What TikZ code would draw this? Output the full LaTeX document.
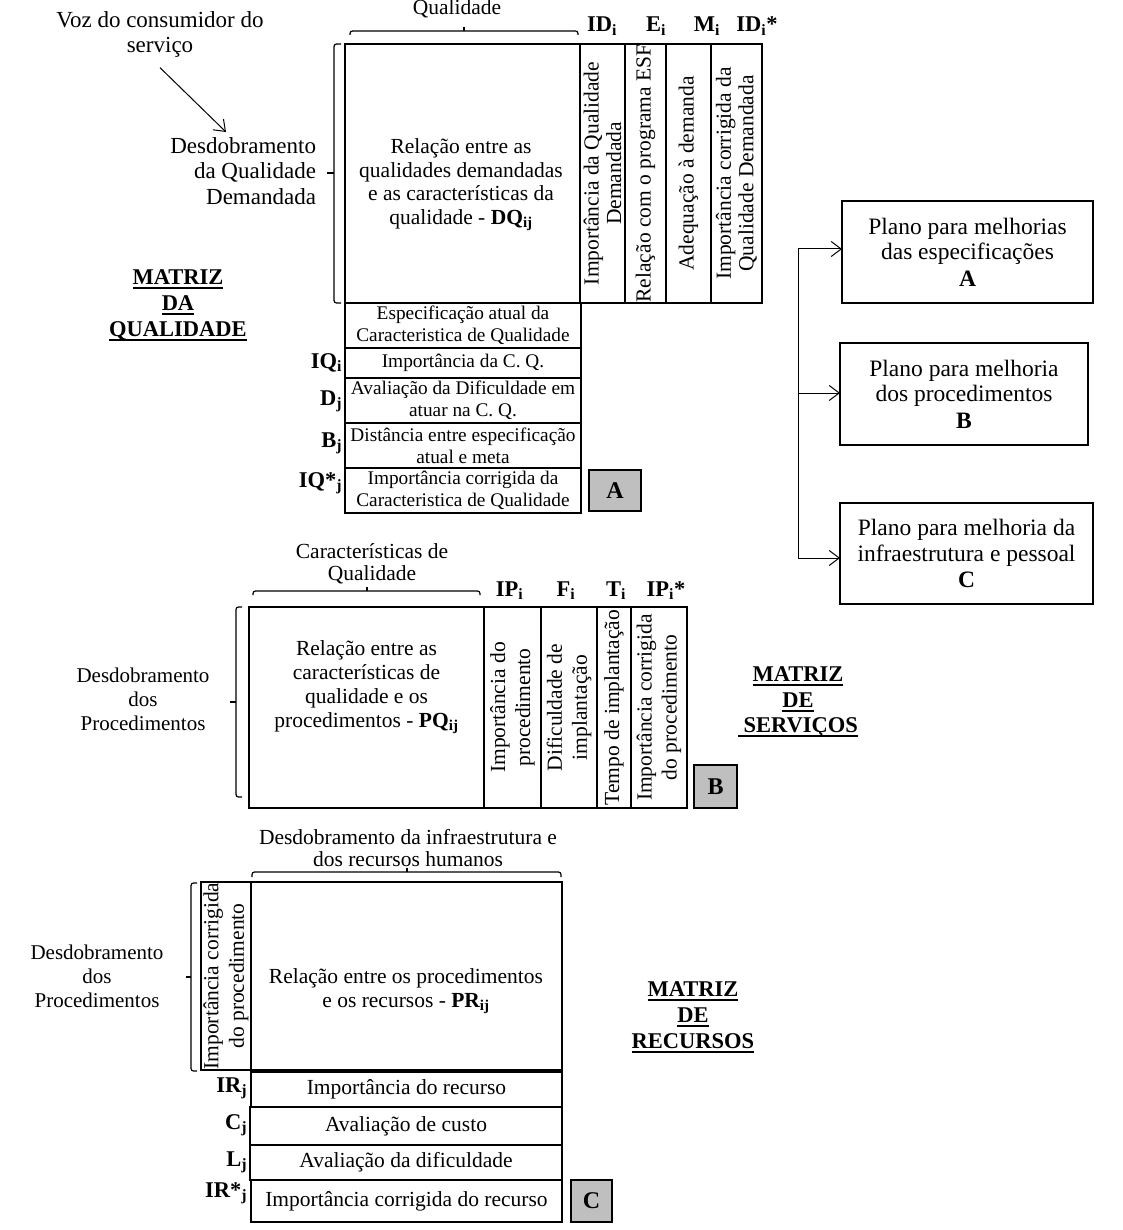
\documentclass[tikz,border=0pt]{standalone}
\usepackage{fontspec}
\setmainfont{Liberation Serif}
\usetikzlibrary{arrows.meta}

\newsavebox{\caixasub}
\newcommand{\sublinha}[1]{\sbox{\caixasub}{#1}\rlap{\vrule width\wd\caixasub height -2.6pt depth 4.4pt}\usebox{\caixasub}}

\begin{document}
\begin{tikzpicture}[x=1pt, y=-1pt,
  every node/.style={inner sep=0pt, outer sep=0pt, align=center},
  txt/.style={font=\fontsize{21.5}{23.5}\selectfont},
  fora/.style={font=\fontsize{23}{25.5}\selectfont},
  desd/.style={font=\fontsize{21}{24}\selectfont},
  cel/.style={draw, line width=1.5pt, font=\fontsize{21.5}{23.5}\selectfont},
  linha/.style={cel, font=\fontsize{19.3}{22}\selectfont},
  vcel/.style={cel, rotate=90, font=\fontsize{21.5}{22.5}\selectfont},
  sigla/.style={anchor=base, font=\bfseries\fontsize{22.5}{24}\selectfont},
  sigladir/.style={sigla, anchor=base east},
  letra/.style={draw, line width=1.5pt, fill=black!25, font=\bfseries\fontsize{24}{24}\selectfont},
  titulo/.style={font=\bfseries\fontsize{22.5}{26}\selectfont},
  plano/.style={draw, line width=1.5pt, font=\fontsize{23.5}{25.5}\selectfont},
  chave/.style={line width=1.2pt, rounded corners=2.5pt},
  seta/.style={line width=1pt, -{Straight Barb[length=10pt, width=15pt]}}
]
\useasboundingbox (0,0) rectangle (1122,1230);

% matriz da qualidade
\node[fora] (voz) at (160,34.5) {Voz do consumidor do\\serviço};
\node[fora, align=right, anchor=east] (desdqd) at (316,171) {Desdobramento\\da Qualidade\\Demandada};
\coordinate (vozfim) at (226,132);
\draw[seta] ([yshift=-10pt]voz.south) -- (vozfim);
\node[titulo] (mqual) at (178,305) {\sublinha{MATRIZ}\\\sublinha{DA}\\\sublinha{QUALIDADE}};

\node[txt, anchor=base] (qual) at (457,15) {Qualidade};
\draw[chave] (350,35) -- (350,31) -- (578,31) -- (578,35);
\draw[line width=1.2pt] (464,31) -- (464,27);
\draw[chave] (341,44) -- (334,44) -- (334,303) -- (341,303);
\draw[line width=1.2pt] (334,173) -- (327,173);

\node[cel, minimum width=235, minimum height=259] (dq) at (462.5,173.5) {};
\node[txt] (dqtxt) at (461,185) {Relação entre as\\qualidades demandadas\\e as características da\\qualidade - \textbf{DQ\textsubscript{ij}}};
\node[vcel, minimum width=259, minimum height=45] (idi) at (602.5,173.5) {Importância da Qualidade\\Demandada};
\node[vcel, minimum width=259, minimum height=41] (ei) at (645.5,173.5) {Relação com o programa ESF};
\node[vcel, minimum width=259, minimum height=45] (mi) at (688.5,173.5) {Adequação à demanda};
\node[vcel, minimum width=259, minimum height=51] (idc) at (736.5,173.5) {Importância corrigida da\\Qualidade Demandada};

\node[sigla] (lidi) at (602,32) {ID\textsubscript{i}};
\node[sigla] (lei) at (656,32) {E\textsubscript{i}};
\node[sigla] (lmi) at (707,32) {M\textsubscript{i}};
\node[sigla] (lidc) at (757,32) {ID\textsubscript{i}*};

\node[linha, minimum width=236, minimum height=45] (esp) at (463,325.5) {Especificação atual da\\Caracteristica de Qualidade};
\node[linha, minimum width=236, minimum height=30] (iq) at (463,363) {Importância da C. Q.};
\node[linha, minimum width=236, minimum height=45] (dif) at (463,400.5) {Avaliação da Dificuldade em\\atuar na C. Q.};
\node[linha, minimum width=236, minimum height=45] (dist) at (463,445.5) {Distância entre especificação\\atual e meta};
\node[linha, minimum width=236, minimum height=45] (iqc) at (463,490.5) {Importância corrigida da\\Caracteristica de Qualidade};

\node[sigladir] (liq) at (342,368) {IQ\textsubscript{i}};
\node[sigladir] (ldif) at (342,405) {D\textsubscript{j}};
\node[sigladir] (ldist) at (342,447) {B\textsubscript{j}};
\node[sigladir] (liqc) at (342,487) {IQ*\textsubscript{j}};

\node[letra, minimum width=52, minimum height=41] (letraA) at (615,490.5) {A};

% planos
\node[plano, minimum width=251, minimum height=102] (planoA) at (967.5,252) {Plano para melhorias\\das especificações\\[1pt]\textbf{A}};
\node[plano, minimum width=248, minimum height=102] (planoB) at (964,394) {Plano para melhoria\\dos procedimentos\\[1pt]\textbf{B}};
\node[plano, minimum width=253, minimum height=101] (planoC) at (966.5,553.5) {Plano para melhoria da\\infraestrutura e pessoal\\[1pt]\textbf{C}};

\coordinate (tA) at (798,249);
\coordinate (tB) at (798,393);
\coordinate (tC) at (798,558);
\draw[line width=1pt] (tA) -- (tC);
\draw[seta] (tA) -- (tA -| planoA.west);
\draw[seta] (tB) -- (tB -| planoB.west);
\draw[seta] (tC) -- (tC -| planoC.west);

% matriz de servicos
\node[txt, font=\fontsize{21.5}{22.5}\selectfont] (carac) at (372,564) {Características de\\Qualidade};
\draw[chave] (253,595) -- (253,591) -- (480,591) -- (480,595);
\draw[line width=1.2pt] (367,591) -- (367,587);
\draw[chave] (242,607) -- (236,607) -- (236,797) -- (242,797);
\draw[line width=1.2pt] (236,702) -- (230,702);
\node[desd] (desdp) at (143,699) {Desdobramento\\dos\\Procedimentos};

\node[cel, minimum width=235, minimum height=201] (pq) at (366.5,707.5) {};
\node[txt, font=\fontsize{21.5}{24}\selectfont] (pqtxt) at (366.5,687) {Relação entre as\\características de\\qualidade e os\\procedimentos - \textbf{PQ\textsubscript{ij}}};
\node[vcel, font=\fontsize{21.5}{25}\selectfont, minimum width=201, minimum height=57] (ipi) at (512.5,707.5) {Importância do\\procedimento};
\node[vcel, font=\fontsize{21.5}{25}\selectfont, minimum width=201, minimum height=56] (fi) at (569,707.5) {Dificuldade de\\implantação};
\node[vcel, minimum width=201, minimum height=34] (ti) at (614,707.5) {Tempo de implantação};
\node[vcel, font=\fontsize{21.5}{25}\selectfont, minimum width=201, minimum height=56] (ipc) at (659,707.5) {Importância corrigida\\do procedimento};

\node[sigla] (lipi) at (509.5,596) {IP\textsubscript{i}};
\node[sigla] (lfi) at (566,596) {F\textsubscript{i}};
\node[sigla] (lti) at (616,596) {T\textsubscript{i}};
\node[sigla] (lipc) at (666,596) {IP\textsubscript{i}*};

\node[letra, minimum width=43, minimum height=43] (letraB) at (715.5,786.5) {B};
\node[titulo, font=\bfseries\fontsize{22.5}{25.5}\selectfont] (mserv) at (798,702) {\sublinha{MATRIZ}\\\sublinha{DE}\\\sublinha{\ SERVIÇOS}};

% matriz de recursos
\node[txt, font=\fontsize{21.5}{22}\selectfont] (infra) at (408,848) {Desdobramento da infraestrutura e\\dos recursos humanos};
\draw[chave] (252,877) -- (252,872) -- (561,872) -- (561,877);
\draw[line width=1.2pt] (407,872) -- (407,868);
\draw[chave] (197,883) -- (191,883) -- (191,1071) -- (197,1071);
\draw[line width=1.2pt] (191,977) -- (186,977);
\node[desd] (desdr) at (97,976) {Desdobramento\\dos\\Procedimentos};

\node[vcel, font=\fontsize{21.5}{25.5}\selectfont, minimum width=188, minimum height=50] (ipr) at (226,976) {Importância corrigida\\do procedimento};
\node[cel, minimum width=311, minimum height=188] (pr) at (406.5,976) {};
\node[txt] (prtxt) at (406,991.5) {Relação entre os procedimentos\\e os recursos - \textbf{PR\textsubscript{ij}}};

\node[cel, minimum width=311, minimum height=35] (ir) at (406.5,1089.5) {Importância do recurso};
\node[cel, minimum width=312, minimum height=38] (cj) at (406,1126) {Avaliação de custo};
\node[cel, minimum width=312, minimum height=35] (lj) at (406,1162.5) {Avaliação da dificuldade};
\node[cel, minimum width=311, minimum height=42] (irc) at (406.5,1201) {Importância corrigida do recurso};

\node[sigladir] (lir) at (247,1092) {IR\textsubscript{j}};
\node[sigladir] (lcj) at (247,1129) {C\textsubscript{j}};
\node[sigladir] (llj) at (247,1166) {L\textsubscript{j}};
\node[sigladir] (lirc) at (247,1197) {IR*\textsubscript{j}};

\node[letra, minimum width=41, minimum height=42] (letraC) at (591.5,1201) {C};
\node[titulo] (mrec) at (693,1017) {\sublinha{MATRIZ}\\\sublinha{DE}\\\sublinha{RECURSOS}};
\end{tikzpicture}
\end{document}
